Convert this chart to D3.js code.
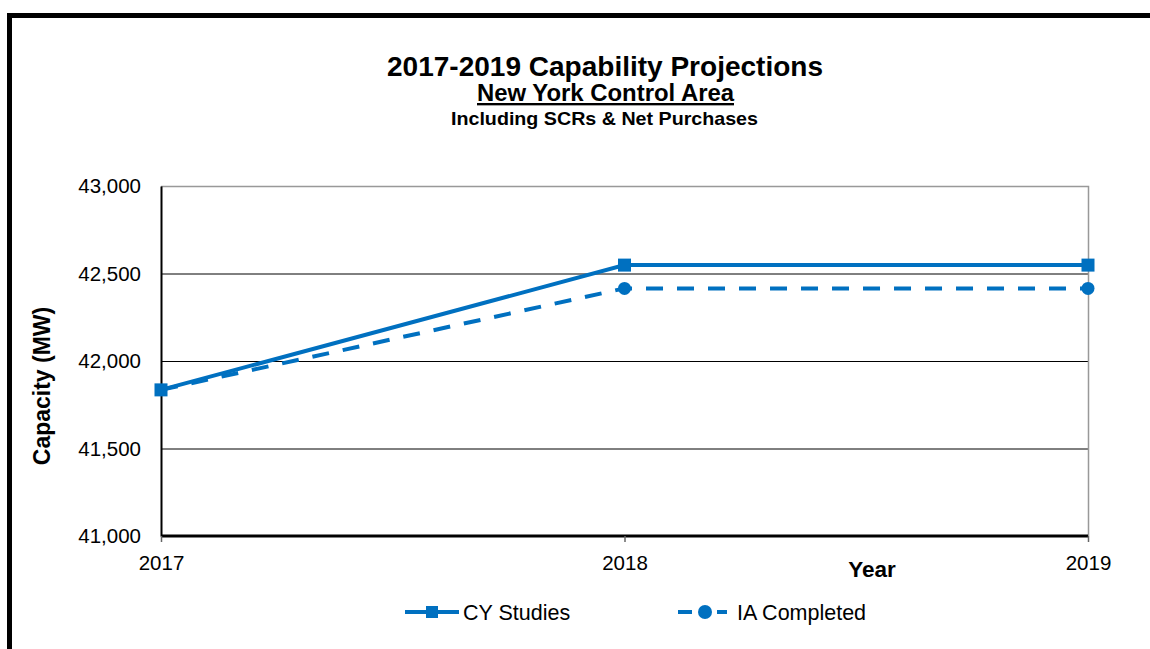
<!DOCTYPE html>
<html><head><meta charset="utf-8">
<script src="https://cdn.jsdelivr.net/npm/d3@7/dist/d3.min.js"></script>
<style>body{margin:0;background:#fff}svg{display:block;font-family:"Liberation Sans",Arial,sans-serif}</style>
</head><body>
<script>
const years = [2017, 2018, 2019];
const cyStudies = [41835, 42548, 42548];
const iaCompleted = [41835, 42415, 42415];
const yTicks = [41000, 41500, 42000, 42500, 43000];
const seriesNames = ["CY Studies", "IA Completed"];

const W = 1150, H = 649;
const svg = d3.select("body").append("svg").attr("width", W).attr("height", H);
const color = "#0070C0";
const FF = "Liberation Sans, Arial, sans-serif";

// outer frame
svg.append("path").attr("d", "M9.5,649 V15.5 H1150").attr("fill", "none").attr("stroke", "#000").attr("stroke-width", 5);

const L = 161, R = 1088, T = 186, B = 536;
const x = d3.scalePoint().domain(years).range([L, R]);
const y = d3.scaleLinear().domain([41000, 43000]).range([B, T]);

// gridlines
svg.append("g").selectAll("line").data(yTicks.filter(t => t > 41000 && t < 43000)).join("line")
  .attr("x1", L).attr("x2", R).attr("y1", d => y(d) + 0.5).attr("y2", d => y(d) + 0.5)
  .attr("stroke", "#000").attr("stroke-width", 1);
// top & right plot border gray
svg.append("path").attr("d", `M${L},${T + 0.5} H${R + 0.5} V${B}`).attr("fill", "none").attr("stroke", "#999").attr("stroke-width", 1.5);

// y axis
const yAxis = svg.append("g").attr("transform", `translate(${L},0)`)
  .call(d3.axisLeft(y).tickValues(yTicks).tickSize(0).tickPadding(20).tickFormat(d3.format(",")));
yAxis.select(".domain").attr("stroke", "#000").attr("stroke-width", 2);
yAxis.selectAll("text").attr("font-size", 20.5).attr("fill", "#000").attr("font-family", FF);

// x axis
const xAxis = svg.append("g").attr("transform", `translate(0,${B})`)
  .call(d3.axisBottom(x).tickSize(6).tickPadding(13).tickFormat(d3.format("d")));
xAxis.select(".domain").attr("stroke", "#000").attr("stroke-width", 3).attr("d", `M${L},0H${R}`);
xAxis.selectAll(".tick line").attr("stroke", "#666").attr("stroke-width", 1.5);
xAxis.selectAll("text").attr("font-size", 20.5).attr("fill", "#000").attr("font-family", FF);

// axis titles
svg.append("text").attr("x", 872).attr("y", 577).attr("text-anchor", "middle").attr("font-size", 22.5).attr("font-weight", "bold").text("Year");
svg.append("text").attr("transform", "translate(50,386) rotate(-90)").attr("text-anchor", "middle").attr("font-size", 23).attr("font-weight", "bold").text("Capacity (MW)");

// titles
svg.append("text").attr("x", 605).attr("y", 76).attr("text-anchor", "middle").attr("font-size", 28).attr("font-weight", "bold")
  .attr("textLength", 436).attr("lengthAdjust", "spacingAndGlyphs").text("2017-2019 Capability Projections");
svg.append("text").attr("x", 605.5).attr("y", 101).attr("text-anchor", "middle").attr("font-size", 23.5).attr("font-weight", "bold").attr("text-decoration", "underline")
  .attr("textLength", 257).attr("lengthAdjust", "spacingAndGlyphs").text("New York Control Area");
svg.append("text").attr("x", 604.5).attr("y", 125).attr("text-anchor", "middle").attr("font-size", 19).attr("font-weight", "bold")
  .attr("textLength", 307).attr("lengthAdjust", "spacingAndGlyphs").text("Including SCRs & Net Purchases");

// series
const line = d3.line().x((d, i) => x(years[i])).y(d => y(d));
svg.append("path").datum(iaCompleted).attr("d", line).attr("fill", "none").attr("stroke", color).attr("stroke-width", 4).attr("stroke-dasharray", "17,14");
svg.append("path").datum(cyStudies).attr("d", line).attr("fill", "none").attr("stroke", color).attr("stroke-width", 4);
svg.append("g").selectAll("circle").data(iaCompleted.slice(1)).join("circle")
  .attr("cx", (d, i) => x(years[i + 1])).attr("cy", d => y(d)).attr("r", 6.5).attr("fill", color);
svg.append("g").selectAll("rect").data(cyStudies).join("rect")
  .attr("x", (d, i) => x(years[i]) - 6.5).attr("y", d => y(d) - 6.5).attr("width", 13).attr("height", 13).attr("fill", color);

// legend
const lg = svg.append("g");
lg.append("line").attr("x1", 405).attr("x2", 459).attr("y1", 612).attr("y2", 612).attr("stroke", color).attr("stroke-width", 4);
lg.append("rect").attr("x", 426).attr("y", 606).attr("width", 12).attr("height", 12).attr("fill", color);
lg.append("text").attr("x", 463).attr("y", 619.5).attr("font-size", 21.5).text(seriesNames[0]);
lg.append("line").attr("x1", 678).attr("x2", 727).attr("y1", 612).attr("y2", 612).attr("stroke", color).attr("stroke-width", 4).attr("stroke-dasharray", "14,25");
lg.append("circle").attr("cx", 705).attr("cy", 612).attr("r", 7).attr("fill", color);
lg.append("text").attr("x", 737).attr("y", 619.5).attr("font-size", 21.5).text(seriesNames[1]);
</script>
</body></html>
